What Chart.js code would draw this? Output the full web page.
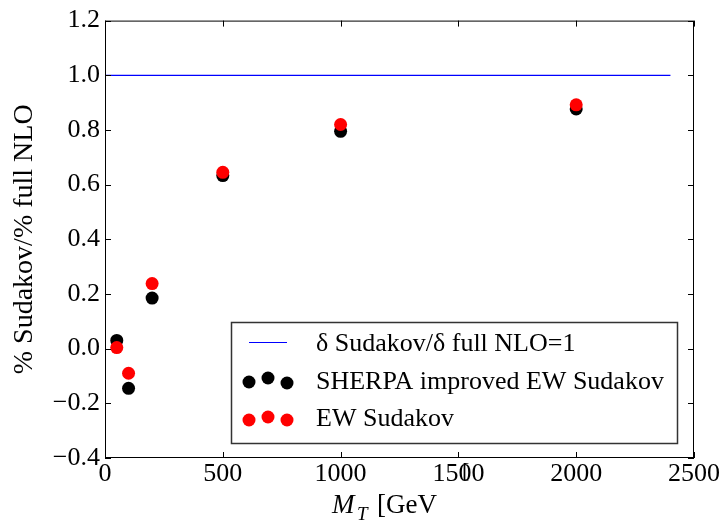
<!DOCTYPE html>
<html>
<head>
<meta charset="utf-8">
<script src="https://cdn.jsdelivr.net/npm/chart.js@4/dist/chart.umd.min.js"></script>
<style>
	html, body { margin: 0; padding: 0; background: #fff; }
</style>
</head>
<body>
<canvas id="chart" width="724" height="527"></canvas>
<script>
const massPoints = [50, 100, 200, 500, 1000, 2000];
const sherpaRatio = [0.03, -0.145, 0.185, 0.633, 0.795, 0.877];
const ewRatio = [0.004, -0.09, 0.238, 0.645, 0.82, 0.892];
const unityX = [0, 2400];
const unityY = [1, 1];
const xTicks = [0, 500, 1000, 1500, 2000, 2500];
const yTicks = [-0.4, -0.2, 0.0, 0.2, 0.4, 0.6, 0.8, 1.0, 1.2];
const legendLabels = [
	"\u03b4 Sudakov/\u03b4 full NLO=1",
	"SHERPA improved EW Sudakov",
	"EW Sudakov",
];

const SERIF = "'Liberation Serif', 'DejaVu Serif', serif";
Chart.defaults.font.family = SERIF;
Chart.defaults.color = "#000";

const toPoints = (xs, ys) => xs.map((x, i) => ({ x: x, y: ys[i] }));

// matplotlib style frame with inward ticks on all four sides
const frameTicks = {
	id: "frameTicks",
	afterDatasetsDraw(chart) {
		const { ctx, chartArea: a, scales } = chart;
		const len = 6;
		ctx.save();
		ctx.strokeStyle = "#000";
		ctx.lineWidth = 1;
		ctx.strokeRect(a.left + 0.5, a.top + 0.5, a.right - a.left - 1, a.bottom - a.top - 1);
		ctx.beginPath();
		xTicks.forEach((v) => {
			const px = Math.round(scales.x.getPixelForValue(v)) + 0.5;
			ctx.moveTo(px, a.bottom);
			ctx.lineTo(px, a.bottom - len);
			ctx.moveTo(px, a.top);
			ctx.lineTo(px, a.top + len);
		});
		yTicks.forEach((v) => {
			const py = Math.round(scales.y.getPixelForValue(v)) + 0.5;
			ctx.moveTo(a.left, py);
			ctx.lineTo(a.left + len, py);
			ctx.moveTo(a.right, py);
			ctx.lineTo(a.right - len, py);
		});
		ctx.stroke();
		ctx.restore();
	},
};

// x title with italic M and subscript T
const xTitle = {
	id: "xTitle",
	afterDraw(chart) {
		const ctx = chart.ctx;
		ctx.save();
		ctx.fillStyle = "#000";
		ctx.textBaseline = "alphabetic";
		ctx.font = "italic 27px " + SERIF;
		ctx.fillText("M", 332, 513);
		ctx.font = "italic 19px " + SERIF;
		ctx.fillText("T", 357, 520);
		ctx.font = "27px " + SERIF;
		ctx.fillText("[GeV", 377, 513);
		ctx.font = "22px " + SERIF;
		ctx.fillText("[", 462, 477);
		ctx.restore();
	},
};

// legend in the style of matplotlib, three scatter markers per entry
const boxLegend = {
	id: "boxLegend",
	afterDraw(chart) {
		const ctx = chart.ctx;
		ctx.save();
		ctx.fillStyle = "#fff";
		ctx.fillRect(231, 322, 446, 121);
		ctx.strokeStyle = "#333";
		ctx.lineWidth = 1.5;
		ctx.strokeRect(231.5, 322.5, 446, 121);

		ctx.strokeStyle = "#0000ff";
		ctx.lineWidth = 1.2;
		ctx.beginPath();
		ctx.moveTo(249, 342.5);
		ctx.lineTo(287, 342.5);
		ctx.stroke();

		const dot = (x, y, c) => {
			ctx.fillStyle = c;
			ctx.beginPath();
			ctx.arc(x, y, 6.5, 0, Math.PI * 2);
			ctx.fill();
		};
		dot(249, 382, "#000");
		dot(268, 378, "#000");
		dot(287, 383, "#000");
		dot(249, 420, "#ff0000");
		dot(268, 417, "#ff0000");
		dot(287, 420, "#ff0000");

		ctx.fillStyle = "#000";
		ctx.font = "26px " + SERIF;
		ctx.textBaseline = "alphabetic";
		ctx.fillText(legendLabels[0], 316, 351);
		ctx.fillText(legendLabels[1], 316, 389);
		ctx.fillText(legendLabels[2], 316, 426);
		ctx.restore();
	},
};

new Chart(document.getElementById("chart"), {
	type: "scatter",
	data: {
		datasets: [
			{
				label: legendLabels[2],
				data: toPoints(massPoints, ewRatio),
				backgroundColor: "#ff0000",
				borderWidth: 0,
				pointRadius: 6.5,
				order: 0,
			},
			{
				label: legendLabels[1],
				data: toPoints(massPoints, sherpaRatio),
				backgroundColor: "#000",
				borderWidth: 0,
				pointRadius: 6.5,
				order: 1,
			},
			{
				label: legendLabels[0],
				data: toPoints(unityX, unityY),
				showLine: true,
				borderColor: "#0000ff",
				borderWidth: 1.3,
				pointRadius: 0,
				order: 2,
			},
		],
	},
	options: {
		responsive: false,
		animation: false,
		devicePixelRatio: 1,
		layout: { padding: { top: 17, right: 30, left: 0, bottom: 0 } },
		plugins: {
			legend: { display: false },
			tooltip: { enabled: false },
		},
		scales: {
			x: {
				type: "linear",
				min: 0,
				max: 2500,
				afterBuildTicks: (s) => { s.ticks = xTicks.map((v) => ({ value: v })); },
				afterFit: (s) => { s.height = 69; },
				grid: { display: false, drawTicks: false },
				border: { display: false },
				ticks: {
					font: { size: 26 },
					padding: 1,
					maxRotation: 0,
					callback: (v) => String(v),
				},
			},
			y: {
				type: "linear",
				min: -0.4,
				max: 1.2,
				afterBuildTicks: (s) => { s.ticks = yTicks.map((v) => ({ value: v })); },
				afterFit: (s) => { s.width = 105; },
				grid: { display: false, drawTicks: false },
				border: { display: false },
				ticks: {
					font: { size: 26 },
					padding: 5,
					callback: (v) => (v < 0 ? "\u2212" + Math.abs(v).toFixed(1) : v.toFixed(1)),
				},
				title: {
					display: true,
					text: "% Sudakov/% full NLO",
					font: { size: 28 },
					padding: { top: 8, bottom: 0 },
				},
			},
		},
	},
	plugins: [frameTicks, xTitle, boxLegend],
});
</script>
</body>
</html>
